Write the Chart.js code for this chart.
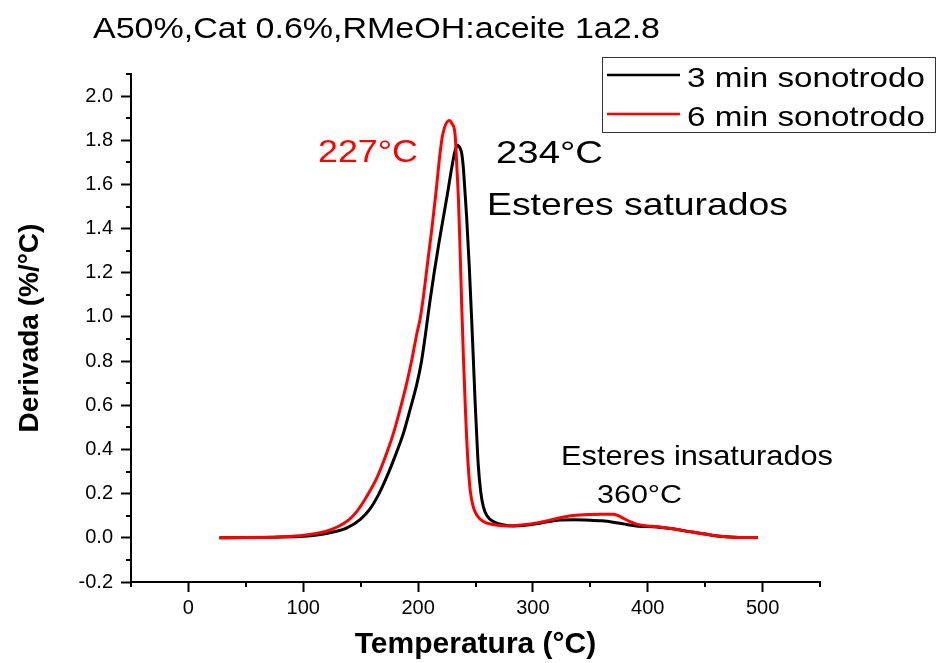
<!DOCTYPE html>
<html>
<head>
<meta charset="utf-8">
<script src="https://cdn.jsdelivr.net/npm/chart.js@4.4.0/dist/chart.umd.min.js"></script>
<style>
html, body { margin: 0; padding: 0; background: #fff; }
canvas { display: block; }
</style>
</head>
<body>
<canvas id="myChart" width="938" height="663"></canvas>
<script>
// values
var temp3 = [27, 50, 75, 100, 112, 125, 138, 150, 158, 165, 172.8, 180, 187.2, 193, 199, 203, 206.5, 210, 214, 218, 222, 226, 229.3, 232.2, 234.2, 236.5, 238, 239.4, 240.8, 242.3, 244.6, 246.7, 248.2, 249.6, 251, 252.4, 254.5, 256.8, 260, 265.5, 275, 283, 295, 306, 323.5, 335, 349.6, 360, 369.8, 380, 390, 407.5, 420, 436.5, 450, 465.5, 480, 496];
var deriv3 = [0, 0.001, 0.003, 0.007, 0.013, 0.025, 0.045, 0.085, 0.13, 0.19, 0.277, 0.37, 0.473, 0.58, 0.698, 0.8, 0.924, 1.06, 1.2, 1.33, 1.45, 1.57, 1.676, 1.752, 1.777, 1.765, 1.74, 1.676, 1.57, 1.45, 1.225, 0.984, 0.8, 0.623, 0.47, 0.33, 0.21, 0.141, 0.1, 0.074, 0.058, 0.054, 0.058, 0.066, 0.081, 0.082, 0.08, 0.077, 0.071, 0.062, 0.054, 0.049, 0.042, 0.028, 0.017, 0.006, 0.002, 0.001];

var temp6 = [27, 50, 75, 97, 110, 120, 130, 139.4, 146.7, 155, 164, 171, 178.5, 184, 190, 194.5, 198.9, 201.7, 204.6, 208.4, 212, 215.5, 219.1, 221.5, 227.2, 229.5, 232.2, 233.8, 235.2, 236.6, 238, 239.4, 240.9, 242.3, 243.7, 245.5, 248, 251.5, 256.8, 265, 277, 290, 306, 322, 335, 350, 360, 369.8, 374, 378.5, 384, 390, 400, 407.5, 420, 436.5, 450, 465.5, 480, 496];
var deriv6 = [0, 0.001, 0.003, 0.009, 0.018, 0.03, 0.05, 0.08, 0.12, 0.185, 0.27, 0.36, 0.473, 0.575, 0.698, 0.805, 0.924, 0.99, 1.09, 1.25, 1.4, 1.56, 1.74, 1.827, 1.89, 1.875, 1.827, 1.676, 1.526, 1.3, 1.05, 0.83, 0.623, 0.45, 0.322, 0.21, 0.141, 0.1, 0.074, 0.06, 0.054, 0.058, 0.07, 0.089, 0.101, 0.106, 0.107, 0.107, 0.101, 0.089, 0.075, 0.062, 0.054, 0.051, 0.042, 0.028, 0.017, 0.006, 0.002, 0.001];

var seriesNames = ['3 min sonotrodo', '6 min sonotrodo'];
var xTicks = [0, 100, 200, 300, 400, 500];
var yTicks = [-0.2, 0, 0.2, 0.4, 0.6, 0.8, 1.0, 1.2, 1.4, 1.6, 1.8, 2.0];
var chartTitle = 'A50%,Cat 0.6%,RMeOH:aceite 1a2.8';
var xTitle = 'Temperatura (°C)';
var yTitle = 'Derivada (%/°C)';

var FONT = '"Liberation Sans", Arial, sans-serif';

function toPoints(xs, ys) {
  var pts = [];
  for (var i = 0; i < xs.length; i++) {
    pts.push({x: xs[i], y: ys[i]});
  }
  return pts;
}

// text squeezed/stretched to fit between left and right
function fitText(ctx, txt, left, right, baseline, size, color, weight) {
  ctx.save();
  ctx.font = (weight || '') + ' ' + size + 'px ' + FONT;
  var w = ctx.measureText(txt).width;
  ctx.translate(left, baseline);
  ctx.scale((right - left) / w, 1);
  ctx.fillStyle = color;
  ctx.textAlign = 'left';
  ctx.textBaseline = 'alphabetic';
  ctx.fillText(txt, 0, 0);
  ctx.restore();
}

function minorTicks(major, min, max) {
  var step = major[1] - major[0];
  var out = [];
  for (var v = major[0] - step / 2; v >= min - 1e-9; v -= step) out.push(v);
  for (var i = 0; i < major.length; i++) {
    var m = major[i] + step / 2;
    if (m <= max + 1e-9) out.push(m);
  }
  return out;
}

var extras = {
  id: 'extras',
  afterDraw: function(chart) {
    var ctx = chart.ctx;
    var xs = chart.scales.x, ys = chart.scales.y;
    var area = chart.chartArea;

    // minor ticks
    ctx.save();
    ctx.strokeStyle = '#000';
    ctx.lineWidth = 2;
    ctx.beginPath();
    minorTicks(xTicks, xs.min, xs.max).forEach(function(v) {
      var px = Math.round(xs.getPixelForValue(v));
      ctx.moveTo(px, area.bottom);
      ctx.lineTo(px, area.bottom + 5);
    });
    minorTicks(yTicks, ys.min, ys.max).forEach(function(v) {
      var py = Math.round(ys.getPixelForValue(v));
      ctx.moveTo(area.left, py);
      ctx.lineTo(area.left - 5, py);
    });
    ctx.stroke();
    ctx.restore();

    // title and notes
    fitText(ctx, chartTitle, 93, 660, 38, 30, '#000');
    fitText(ctx, '227°C', 318, 418, 162, 32, '#ff0000');
    fitText(ctx, '234°C', 496, 603, 163, 32, '#000');
    fitText(ctx, 'Esteres saturados', 487, 788, 215, 32, '#000');
    fitText(ctx, 'Esteres insaturados', 561, 833, 465, 28, '#000');
    fitText(ctx, '360°C', 597, 682, 503, 26, '#000');

    // legend box
    ctx.save();
    ctx.strokeStyle = '#333';
    ctx.lineWidth = 1;
    ctx.strokeRect(602.5, 57.5, 333, 75);
    var rows = [75, 114];
    chart.data.datasets.forEach(function(ds, i) {
      ctx.strokeStyle = ds.borderColor;
      ctx.lineWidth = 2.5;
      ctx.beginPath();
      ctx.moveTo(607, rows[i]);
      ctx.lineTo(680, rows[i]);
      ctx.stroke();
      fitText(ctx, ds.label, 687, 925, rows[i] + 12, 28, '#000');
    });
    ctx.restore();
  }
};

const ctx = document.getElementById('myChart').getContext('2d');
const myChart = new Chart(ctx, {
  type: 'line',
  data: {
    datasets: [{
      label: seriesNames[0],
      data: toPoints(temp3, deriv3),
      borderColor: '#000000',
      borderWidth: 3,
      pointRadius: 0,
      cubicInterpolationMode: 'monotone',
      order: 1
    }, {
      label: seriesNames[1],
      data: toPoints(temp6, deriv6),
      borderColor: '#ff0000',
      borderWidth: 3,
      pointRadius: 0,
      cubicInterpolationMode: 'monotone',
      order: 0
    }]
  },
  options: {
    responsive: false,
    animation: false,
    layout: { padding: { left: 0, right: 118, top: 74, bottom: 0 } },
    plugins: {
      legend: { display: false },
      title: { display: false },
      tooltip: { enabled: false }
    },
    scales: {
      x: {
        type: 'linear',
        min: -50,
        max: 550,
        afterBuildTicks: function(s) { s.ticks = xTicks.map(function(v) { return {value: v}; }); },
        afterFit: function(s) { s.height = 81; },
        border: { color: '#000', width: 2 },
        grid: { drawOnChartArea: false, tickLength: 10, tickWidth: 2, tickColor: '#000' },
        ticks: {
          color: '#000',
          padding: 4,
          maxRotation: 0,
          font: { family: FONT, size: 20 },
          callback: function(v) { return v; }
        },
        title: {
          display: true,
          text: xTitle,
          color: '#000',
          padding: 0,
          font: { family: FONT, size: 30, weight: 'bold' }
        }
      },
      y: {
        type: 'linear',
        min: -0.2,
        max: 2.1,
        afterBuildTicks: function(s) { s.ticks = yTicks.map(function(v) { return {value: v}; }); },
        afterFit: function(s) { s.width = 131; },
        border: { color: '#000', width: 2 },
        grid: { drawOnChartArea: false, tickLength: 10, tickWidth: 2, tickColor: '#000' },
        ticks: {
          color: '#000',
          padding: 8,
          font: { family: FONT, size: 20 },
          callback: function(v) { return v.toFixed(1); }
        },
        title: {
          display: true,
          text: yTitle,
          color: '#000',
          padding: { top: 13, bottom: 0 },
          font: { family: FONT, size: 28, weight: 'bold' }
        }
      }
    }
  },
  plugins: [extras]
});
</script>
</body>
</html>
